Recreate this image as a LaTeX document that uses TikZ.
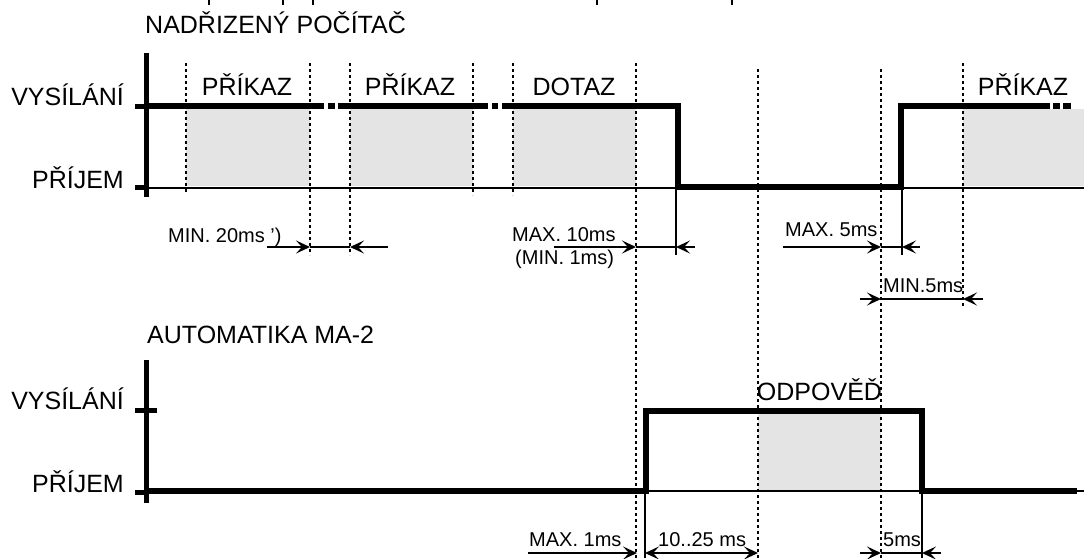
\documentclass[tikz,border=0pt]{standalone}
\usepackage{fontspec}
\setmainfont{Liberation Sans}
\usetikzlibrary{arrows.meta}
\definecolor{gfill}{RGB}{228,228,228}
\begin{document}
\begin{tikzpicture}[x=1pt,y=-1pt,
  sig/.style={line width=6pt,line join=miter},
  axisline/.style={line width=5pt},
  thinline/.style={line width=1.6pt},
  dots/.style={line width=1.8pt,dash pattern=on 3pt off 3pt},
  lbl/.style={font=\fontsize{25}{28}\selectfont,inner sep=0pt},
  dim/.style={font=\fontsize{20}{23}\selectfont,inner sep=0pt},
  dimline/.style={line width=1.6pt},
  toright/.style={dimline,-{Stealth[length=14pt,width=13pt,inset=6pt]}},
  toleft/.style={dimline,{Stealth[length=14pt,width=13pt,inset=6pt]}-},
  toboth/.style={dimline,{Stealth[length=14pt,width=13pt,inset=6pt]}-{Stealth[length=14pt,width=13pt,inset=6pt]}}
]
\useasboundingbox (0,0) rectangle (1084,558);
% grey fills
\fill[gfill] (186,109) rectangle (310,186);
\fill[gfill] (350,109) rectangle (473,186);
\fill[gfill] (513,109) rectangle (636,186);
\fill[gfill] (963,109) rectangle (1084,186);
\fill[gfill] (758,414) rectangle (881,490);
% tiny marks at top edge
\foreach \x in {209,283,313,597,732} \fill (\x-1,0) rectangle (\x+1,5);
% dotted guides
\draw[dots] (186,63) -- (186,193);
\draw[dots] (310,63) -- (310,255);
\draw[dots] (350,63) -- (350,255);
\draw[dots] (473,63) -- (473,195);
\draw[dots] (513,63) -- (513,195);
\draw[dots] (636,63) -- (636,558);
\draw[dots] (758,69) -- (758,558);
\draw[dots] (881,69) -- (881,558);
\draw[dots] (963,63) -- (963,307);
% thin baselines and extension lines
\draw[thinline] (146,188) -- (678,188);
\draw[thinline] (902,188) -- (1084,188);
\draw[thinline] (676,190) -- (676,255);
\draw[thinline] (902,190) -- (902,255);
\draw[thinline] (646,491) -- (922,491);
\draw[thinline] (1076,491) -- (1084,491);
\draw[thinline] (645,494) -- (645,558);
\draw[thinline] (922,494) -- (922,558);
% top signal
\draw[sig] (146,106) -- (324,106);
\fill (328,103) rectangle (335,109);
\draw[sig] (338,106) -- (488,106);
\fill (492,103) rectangle (498,109);
\draw[sig] (502,106) -- (678,106) -- (678,186.5) -- (901,186.5) -- (901,106) -- (1050,106);
\fill (1053,103) rectangle (1060,109);
\fill (1063,103) rectangle (1071,109);
% bottom signal
\draw[sig] (146,491) -- (646,491) -- (646,411) -- (922,411) -- (922,491) -- (1077,491);
% axes
\draw[axisline] (146,53) -- (146,197);
\draw[axisline] (135,106) -- (146,106);
\draw[axisline] (135,187) -- (146,187);
\draw[axisline] (146,360) -- (146,503);
\draw[axisline] (135,410) -- (157,410);
\draw[axisline] (135,492) -- (146,492);
% labels
\node[lbl,anchor=base west] (title1) at (145,33) {NADŘIZENÝ POČÍTAČ};
\node[lbl,anchor=base east] (vys1) at (124,105) {VYSÍLÁNÍ};
\node[lbl,anchor=base east] (pri1) at (124,188) {PŘÍJEM};
\node[lbl,anchor=base] (pk1) at (247,95) {PŘÍKAZ};
\node[lbl,anchor=base] (pk2) at (410,95) {PŘÍKAZ};
\node[lbl,anchor=base] (dot) at (574,95) {DOTAZ};
\node[lbl,anchor=base] (pk3) at (1023,95) {PŘÍKAZ};
\node[lbl,anchor=base west] (title2) at (147,343) {AUTOMATIKA MA-2};
\node[lbl,anchor=base east] (vys2) at (124,409) {VYSÍLÁNÍ};
\node[lbl,anchor=base east] (pri2) at (124,492) {PŘÍJEM};
\node[lbl,anchor=base] (odp) at (819.5,400) {ODPOVĚĎ};
% dimension labels
\node[dim,anchor=base west] (d1) at (168,242) {MIN. 20ms ')};
\node[dim,anchor=base west] (d2) at (512,241) {MAX. 10ms};
\node[dim,anchor=base west] (d2b) at (515,264) {(MIN. 1ms)};
\node[dim,anchor=base west] (d3) at (785,236) {MAX. 5ms};
\node[dim,anchor=base west] (d4) at (883,292) {MIN.5ms};
\node[dim,anchor=base west] (d5) at (529,546) {MAX. 1ms};
\node[dim,anchor=base west] (d6) at (658,546) {10..25 ms};
\node[dim,anchor=base west] (d7) at (883,546) {5ms};
% dimension arrows
\draw[toright] (267,247) -- (310,247);
\draw[dimline] (310,247) -- (350,247);
\draw[toleft] (350,247) -- (388,247);
\draw[toright] (554,247) -- (636,247);
\draw[dimline] (636,247) -- (676,247);
\draw[toleft] (676,247) -- (695,247);
\draw[toright] (783,247) -- (881,247);
\draw[dimline] (881,247) -- (902,247);
\draw[toleft] (902,247) -- (920,247);
\draw[toright] (860,299) -- (881,299);
\draw[dimline] (881,299) -- (963,299);
\draw[toleft] (963,299) -- (983,299);
\draw[toright] (528,553) -- (637,553);
\draw[toboth] (645,553) -- (758,553);
\draw[toright] (860,553) -- (881,553);
\draw[dimline] (881,553) -- (922,553);
\draw[toleft] (922,553) -- (941,553);
\end{tikzpicture}
\end{document}
